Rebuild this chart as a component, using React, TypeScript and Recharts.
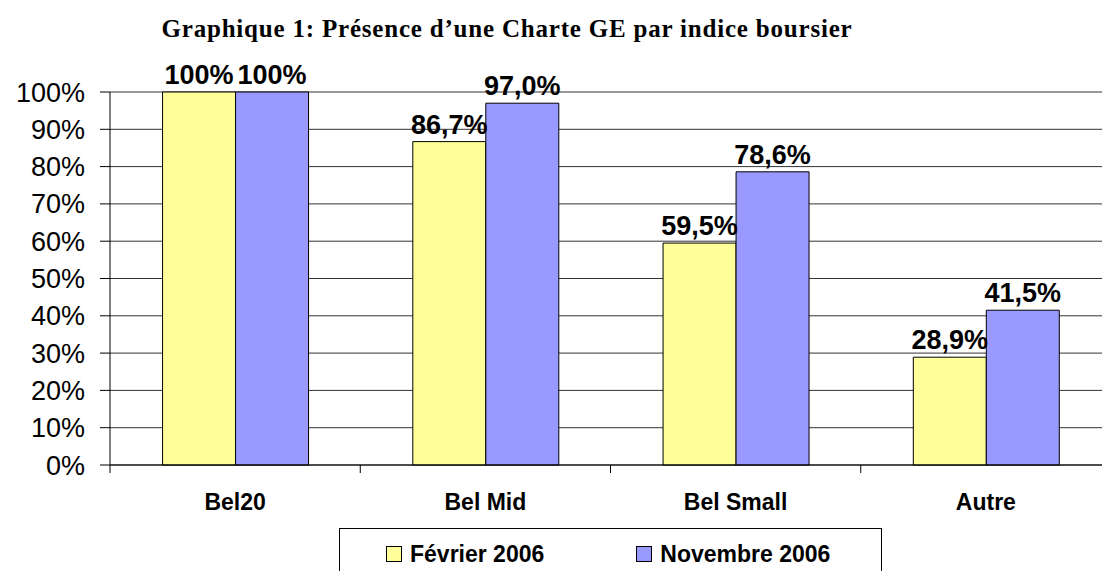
import React from "react";
import { BarChart, Bar, XAxis, YAxis, CartesianGrid, LabelList, Legend } from "recharts";

// indices boursiers
const categories = ["Bel20", "Bel Mid", "Bel Small", "Autre"];
const fevrier2006 = [100, 86.7, 59.5, 28.9];
const novembre2006 = [100, 97.0, 78.6, 41.5];
const yTicks = [0, 10, 20, 30, 40, 50, 60, 70, 80, 90, 100];
const seriesNames = ["Février 2006", "Novembre 2006"];

const data = categories.map((c, i) => ({
  name: c,
  fev: fevrier2006[i],
  nov: novembre2006[i],
}));

const CHART_W = 1111;
const CHART_H = 571;
const Y_AXIS_W = 110;
const BAND = (CHART_W - Y_AXIS_W) / categories.length;
const FONT = '"Liberation Sans", Arial, sans-serif';

function fmtLabel(v: any) {
  const n = Number(v);
  if (n === 100) return "100%";
  return n.toFixed(1).replace(".", ",") + "%";
}

// étiquette de catégorie + petit trait à la limite gauche de la catégorie (style Excel)
function CategoryTick(props: any) {
  const { x, y, payload } = props;
  return (
    <g>
      <line x1={x - BAND / 2} x2={x - BAND / 2} y1={y} y2={y + 8} stroke="#000" />
      <text x={x} y={y + 45} textAnchor="middle" fontFamily={FONT} fontWeight="bold" fontSize={23} fill="#000">
        {payload.value}
      </text>
    </g>
  );
}

function LegendBox(props: any) {
  const items = props.payload || [];
  return (
    <div
      style={{
        border: "1px solid #000",
        height: 60,
        boxSizing: "border-box",
        display: "flex",
        alignItems: "flex-start",
        paddingLeft: 46,
        paddingTop: 11,
        gap: 92,
        background: "#fff",
      }}
    >
      {items.map((it: any) => (
        <div key={it.value} style={{ display: "flex", alignItems: "center", gap: 8 }}>
          <span
            style={{
              display: "inline-block",
              width: 14,
              height: 14,
              border: "1px solid #000",
              background: it.color,
            }}
          />
          <span style={{ fontFamily: FONT, fontWeight: "bold", fontSize: 23, color: "#000", lineHeight: "28px" }}>
            {it.value}
          </span>
        </div>
      ))}
    </div>
  );
}

export default function App() {
  return (
    <div
      style={{
        position: "absolute",
        left: 0,
        top: 0,
        width: 1102,
        height: 571,
        overflow: "hidden",
        background: "#fff",
      }}
    >
      <div
        style={{
          position: "absolute",
          left: 0,
          top: 16,
          width: 1014,
          textAlign: "center",
          fontFamily: '"Liberation Serif", "Times New Roman", serif',
          fontWeight: "bold",
          fontSize: 25,
          letterSpacing: 0.8,
          lineHeight: "25px",
          color: "#000",
        }}
      >
        Graphique 1: Présence d’une Charte GE par indice boursier
      </div>
      <BarChart
        width={CHART_W}
        height={CHART_H}
        data={data}
        margin={{ top: 92, right: 0, bottom: 46, left: 0 }}
        barCategoryGap="21%"
        barGap={0}
      >
        <CartesianGrid vertical={false} stroke="#333" />
        <XAxis
          dataKey="name"
          axisLine={{ stroke: "#000" }}
          tickLine={false}
          tickSize={0}
          tickMargin={0}
          height={60}
          tick={<CategoryTick />}
          interval={0}
        />
        <YAxis
          width={Y_AXIS_W}
          domain={[0, 100]}
          ticks={yTicks}
          tickFormatter={(v) => `${v}%`}
          axisLine={{ stroke: "#000" }}
          tickLine={{ stroke: "#000" }}
          tickSize={10}
          tickMargin={15}
          tick={{ fill: "#000", fontSize: 27, fontFamily: FONT }}
        />
        <Legend
          layout="horizontal"
          verticalAlign="middle"
          align="center"
          content={<LegendBox />}
          wrapperStyle={{ left: 339, top: 528, width: 543 }}
        />
        <Bar dataKey="fev" name={seriesNames[0]} fill="#FFFF99" stroke="#000" strokeWidth={1} isAnimationActive={false}>
          <LabelList
            dataKey="fev"
            position="top"
            offset={8}
            formatter={fmtLabel}
            style={{ fontFamily: FONT, fontWeight: "bold", fontSize: 27, fill: "#000" }}
          />
        </Bar>
        <Bar dataKey="nov" name={seriesNames[1]} fill="#9999FF" stroke="#000" strokeWidth={1} isAnimationActive={false}>
          <LabelList
            dataKey="nov"
            position="top"
            offset={8}
            formatter={fmtLabel}
            style={{ fontFamily: FONT, fontWeight: "bold", fontSize: 27, fill: "#000" }}
          />
        </Bar>
      </BarChart>
    </div>
  );
}
